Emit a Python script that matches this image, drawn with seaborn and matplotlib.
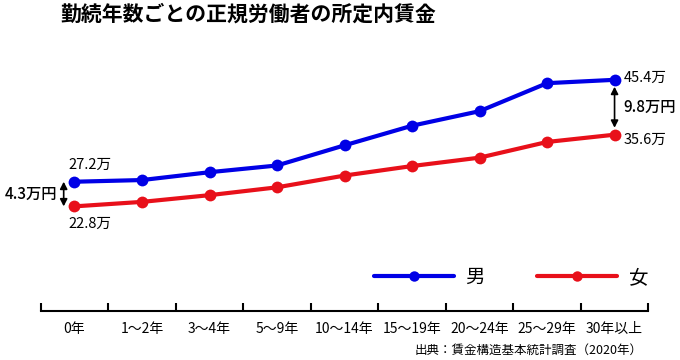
import pandas as pd
import matplotlib.pyplot as plt
import seaborn as sns

# データ（単位：万円）
categories = ['0年', '1～2年', '3～4年', '5～9年', '10～14年', '15～19年', '20～24年', '25～29年', '30年以上']
male = [27.2, 27.5, 28.9, 30.1, 33.7, 37.2, 39.8, 44.8, 45.4]
female = [22.8, 23.6, 24.8, 26.2, 28.3, 30.0, 31.5, 34.3, 35.6]
series_names = ['男', '女']

COLOR_M = "#0000e6"  # 青
COLOR_F = "#e8101a"  # 赤

sns.set_theme(style="white")
plt.rcParams['font.family'] = ['Noto Sans CJK JP', 'DejaVu Sans']
plt.rcParams['text.color'] = 'black'
plt.rcParams['xtick.color'] = 'black'

df = pd.DataFrame({
    '勤続年数': categories * 2,
    '賃金': male + female,
    '性別': [series_names[0]] * len(male) + [series_names[1]] * len(female),
})

fig = plt.figure(figsize=(6.8, 3.6), dpi=100)
ax = fig.add_axes([0.0599, 0.137, 0.8935, 0.813])

sns.lineplot(data=df, x='勤続年数', y='賃金', hue='性別', palette=[COLOR_M, COLOR_F],
             marker='o', markersize=8.5, markeredgewidth=0, linewidth=3, ax=ax)

ax.set_xlim(-0.5, len(categories) - 0.5)
ax.set_ylim(4.17, 56.44)

# 軸：下だけ、目盛りは区切り位置
for s in ['left', 'right', 'top']:
    ax.spines[s].set_visible(False)
ax.spines['bottom'].set_linewidth(1.5)
ax.spines['bottom'].set_color('black')
ax.set_yticks([])
ax.set_xticks([i - 0.5 for i in range(len(categories) + 1)])
ax.set_xticklabels([])
ax.set_xticks(range(len(categories)), minor=True)
ax.set_xticklabels(categories, minor=True, fontsize=10)
ax.tick_params(axis='x', which='major', direction='in', length=6, width=1.5, color='black', bottom=True)
ax.tick_params(axis='x', which='minor', length=0, pad=8, labelcolor='black')
ax.set_xlabel('')
ax.set_ylabel('')

# 値ラベル
last = len(categories) - 1
lab = dict(textcoords='offset pixels', va='center', fontsize=10.5, color='black')
ax.annotate(f'{male[0]}万', (0, male[0]), xytext=(-6, 17), ha='left', **lab)
ax.annotate(f'{female[0]}万', (0, female[0]), xytext=(-6, -17), ha='left', **lab)
ax.annotate(f'{male[last]}万', (last, male[last]), xytext=(9, 2), ha='left', **lab)
ax.annotate(f'{female[last]}万', (last, female[last]), xytext=(9, -5), ha='left', **lab)

# 差の矢印
arrow = dict(arrowstyle='<|-|>,head_length=0.35,head_width=0.18', color='black', lw=1.2)
ax.annotate('', xy=(-0.16, female[0]), xytext=(-0.16, male[0]),
            arrowprops=dict(arrow, shrinkA=0, shrinkB=0))
ax.annotate('', xy=(last, female[last]), xytext=(last, male[last]),
            arrowprops=dict(arrow, shrinkA=5, shrinkB=5))
ax.annotate('4.3万円', (0, (male[0] + female[0]) / 2), xytext=(-17, 0), textcoords='offset pixels',
            ha='right', va='center', fontsize=11, fontweight='medium')
ax.annotate('9.8万円', (last, (male[last] + female[last]) / 2), xytext=(9, 0), textcoords='offset pixels',
            ha='left', va='center', fontsize=11, fontweight='medium')

# 凡例
handles, labels = ax.get_legend_handles_labels()
leg = ax.legend(handles, labels, ncol=2, frameon=False, fontsize=14, handlelength=4.1,
                handletextpad=0.6, columnspacing=2.7, loc='center',
                bbox_to_anchor=(511 / 680, 1 - 277.7 / 360), bbox_transform=fig.transFigure)
for h in leg.legend_handles:
    h.set_linewidth(3)
    h.set_markersize(7.5)

# タイトル・出典
fig.text(60 / 680, 1 - 14 / 360, '勤続年数ごとの正規労働者の所定内賃金', fontsize=15,
         fontweight='bold', ha='left', va='center')
fig.text(643 / 680, 1 - 350 / 360, '出典：賃金構造基本統計調査（2020年）', fontsize=9,
         ha='right', va='center')

plt.savefig('out.png', dpi=100)
plt.close()
